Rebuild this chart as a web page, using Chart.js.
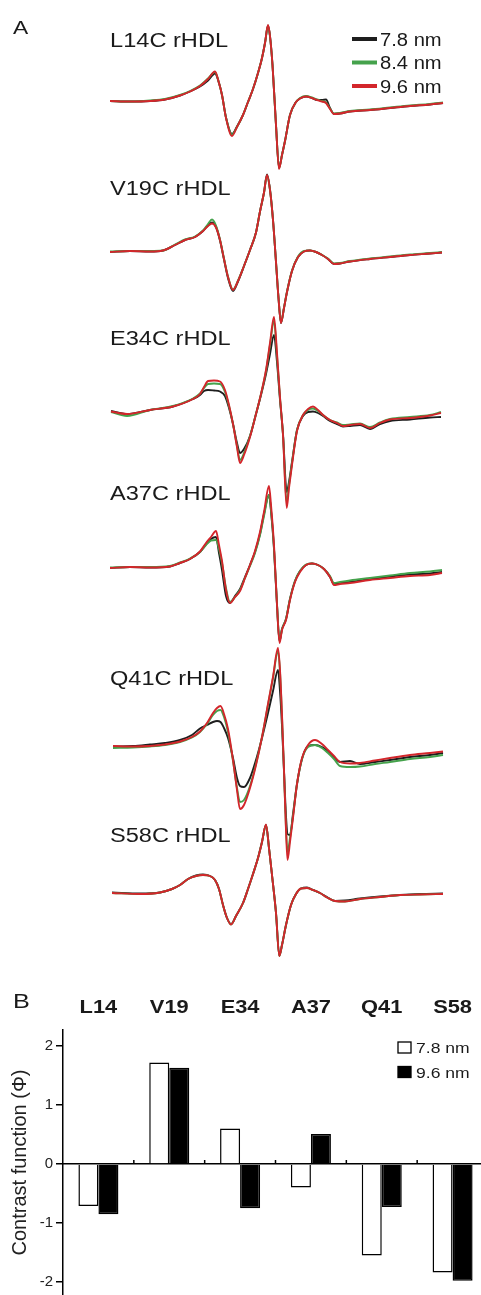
<!DOCTYPE html>
<html>
<head>
<meta charset="utf-8">
<script src="https://cdn.jsdelivr.net/npm/chart.js@4.4.1/dist/chart.umd.min.js"></script>
<style>
  html, body { margin: 0; padding: 0; background: #fff; overflow: hidden; }
  canvas { display: block; }
</style>
</head>
<body>
<canvas id="spectraChart" width="481" height="985"></canvas>
<canvas id="contrastChart" width="488" height="310"></canvas>
<script>
// PANNEAU A : spectres RPE des 6 mutants, pour 3 tailles de particules rHDL
// champ = décalage de champ (u.a.), intensités (u.a.)
const sizes = ['7.8 nm', '8.4 nm', '9.6 nm'];
const mutants = ['L14C rHDL', 'V19C rHDL', 'E34C rHDL', 'A37C rHDL', 'Q41C rHDL', 'S58C rHDL'];

const l14Field = [0,20,40,55,70,80,90,98,105,109,112,116,122,127,133,138,143,148,152,155,158,160,162.5,166,169,172,175,180,186,190,196,202,207,212,216,220,224,230,240,260,280,300,320,333];
const l14Black = [0,-0.5,0,1.5,5.5,9.5,14.5,20.5,27.5,18,6,-16.5,-33,-25.5,-14,-1,12,28,43,58,75.5,65,36,-24,-67,-54,-40,-14,-1,2.5,4.5,3,1,1,1.5,-7,-13,-12.5,-10.5,-9,-7,-5,-3.5,-2];
const l14Green = [0,-0.5,0.5,2,6,10,15.5,22.5,29,18,6,-16.5,-33.5,-26,-14,-1,12,28,43,58,75,64,36,-24,-67,-54,-40,-14,-1,3,5,3.5,1.5,0,-1.5,-7.5,-12.5,-12,-10,-8.5,-6.5,-4.5,-3,-1.5];
const l14Red = [0,-0.5,0,1.5,5.5,9.5,15,22,29.5,18,6,-17,-35,-26,-14,-1,12,28,43,58,76,65,36,-24,-68,-54,-40,-14,-1,2.5,4.5,3,1,-0.5,-2,-8,-13,-12.5,-10.5,-9,-7,-5,-3.5,-2];

const v19Field = [0,20,40,53,65,75,85,93,98,102,106,110,114,118,123,128,134,140,146,150,154,157,160,163,166,168.5,171,174,177,182,188,194,200,206,212,218,224,230,240,260,280,300,320,332];
const v19Black = [-0.5,0.5,0,1,6.5,11.5,14.5,20.5,26,29,24.5,11,-8,-26.5,-39.5,-30,-14.5,1.5,19,40,59,77,62,31.5,-10.5,-46.5,-71.5,-56.5,-40.5,-19.5,-5.5,0,1,-0.5,-3.5,-7.5,-12.5,-12,-10,-7.5,-5.5,-3.5,-2,-1];
const v19Green = [0,0.5,0.5,1,7,12,15,21,27.5,32,26,12,-7,-25,-38,-29,-14.5,1.5,19,40,58.5,76,61.5,31.5,-10.5,-46,-71,-56,-40,-19,-5,0.5,1,-0.5,-3.5,-7,-12,-11.5,-9.5,-7,-5,-3,-1.5,-0.5];
const v19Red = [-0.5,0.5,0,1,6.5,11.5,14.5,20.5,25.5,28,24,11.5,-7.5,-25.5,-38.5,-29.5,-14.5,1.5,19,40,59,76.5,61.5,31.5,-10.5,-46.5,-71.5,-56.5,-40.5,-19.5,-5.5,0,1,-0.5,-3.5,-7.5,-12.5,-12,-10,-7.5,-5.5,-3.5,-2,-1];

const e34Field = [1,17,40,63,83,90,94,98,104,110,115,119,123,127,130,134,140,146,151,156,160,164,167,170,173,176.7,179,182,187,193,198,203,208,213,220,227,233,240,250,260,270,280,300,320,331];
const e34Black = [1,-2,2,5.5,13,17,21,22,21.5,20.5,16,4,-12,-31,-41,-37,-24,-2,17,38,58,77,50,12,-22,-80,-70,-50,-18,-4,0,0.5,-1,-4,-9,-12,-14.5,-14,-13,-17,-12,-9,-7.5,-5.5,-5];
const e34Green = [0,-4,2,6,13.5,18.5,24,28,28.5,28,20,6,-12,-34,-48,-41,-24,-2,18,41,67,91,56,14,-23,-91,-73,-51,-18,-3,2,3.5,1,-3,-8,-10.5,-13,-12.5,-11.5,-15,-10.5,-7,-5,-3,0];
const e34Red = [0.5,-2,2,5.5,13,18,25,31,31.5,30.5,22,7,-12,-35,-51,-43,-25,-2,18,42,69,95,59,15,-23,-96,-76,-53,-19,-3,3,5.5,2,-3,-8,-11,-14,-13,-12,-16,-11,-7.5,-6,-3.5,-1];

const a37Field = [0,20,40,60,70,80,90,96,101,106,109,112,116,120,125,130,135,140,145,150,154,159,161,164,167,169.5,172,176,180,185,190,196,202,208,214,220,224,230,240,260,280,300,320,332];
const a37Black = [0,1,0.5,1.5,5,9,16,23.5,29,31,15,-2,-28,-35,-28,-21,-9,3,16,34,54,73,57,19,-37,-73,-61,-51,-31,-13,-3,3,4.5,3,-1,-9,-16,-15,-14,-11,-8.5,-6.5,-5.5,-4];
const a37Green = [0.5,1,1,2,5.5,9.5,16,23,27.5,28,19,5,-20,-34,-29,-22,-10,2,15,33,52,73,58,20,-36,-73,-61,-51,-31,-13,-3,3.5,4.5,3,-1,-8,-15,-14,-12.5,-10,-7.5,-5,-3.5,-2];
const a37Red = [0,1,0.5,1.5,5,9,16.5,25,31,37,23,7,-22,-35,-29,-23,-10,3,17,36,56,82,63,23,-37,-75,-62,-52,-32,-14,-4,3,4.5,3,-1,-9,-17,-16,-15,-12,-10,-8,-7,-5];

const q41Field = [3,23,40,55,70,82,90,97,103,107,110.5,114,118,123,127,130,134,140,146,152,158,163,168,170,172,174,176,177.5,180,183,187,192,198,205,212,218,224,230,240,250,265,280,300,320,333];
const q41Black = [-0.5,0,1.5,3,6,11,17.5,21,24,25,24,18,8,-12,-32,-40,-41,-32,-14,8,33,55,76,55,20,-25,-70,-88,-89,-68,-38,-13,0,1,-1,-5,-11,-16,-15,-18,-16,-14,-11,-9,-7];
const q41Green = [-2,-1.5,-0.5,1,4,8.5,14,22,31,35,36,29,14,-15,-42,-56,-54,-40,-18,9,41,68,95,74,29,-25,-82,-106,-92,-70,-38,-13,-1,1,-2,-7,-13,-20,-21,-20.5,-18,-16,-13,-11,-9];
const q41Red = [0,-0.5,0,1.5,4.5,9,14.5,23,33,38,40,32,17,-14,-44,-63,-59,-42,-19,9,42,69,98,76,31,-24,-84,-114,-96,-72,-38,-12,1,6,2,-4,-10,-16,-17.5,-17,-14.5,-12,-9,-7,-5.5];

const s58Field = [2,30,50,62,70,78,86,93,100,105,109,113,117,121,126,133,138,143,148,152,156,159,162,166,169.3,172,176,181,186,191,197,203,210,217,225,235,250,270,290,310,333];
const s58Black = [0.5,-0.5,0.5,4,8,14,17.5,18.5,17,13,4,-12,-25,-31,-23,-10,4,19,35,51,68,45,18,-20,-62.5,-52,-32,-12,-1,4.5,5.5,3,0,-4,-8,-7.5,-5.5,-3.5,-2,-1,-0.5];
const s58Green = [0,-1,0.5,4,8,14,17,18,17,13,4,-12,-25,-31.5,-23,-10,4,19,35,51,68,45,18,-20,-63,-52,-32,-12,-1,4.5,5,3,0,-4.5,-8,-8.5,-6,-4,-2,-1.5,-1];
const s58Red = [0,-1,0.5,4,8,14,17,18,17,13,4,-12,-25,-31.5,-23,-10,4,19,35,51,68.5,45,18,-20,-63,-52,-32,-12,-1,4.5,5,3,0,-4.5,-8,-8.5,-6,-4,-2,-1.5,-1];

// PANNEAU B : fonction de contraste (Φ) par site
const sites = ['L14', 'V19', 'E34', 'A37', 'Q41', 'S58'];
const phi78 = [-0.71, 1.72, 0.60, -0.40, -1.55, -1.84];
const phi96 = [-0.85, 1.63, -0.75, 0.51, -0.73, -1.98];
const phiTicks = [-2, -1, 0, 1, 2];

// mise en page (empilement des spectres, pas des données)
const stackOffset = [-101, -251.5, -412, -568, -746, -893];
const labelLift = [54, 56.5, 67, 68, 61, 51];
const lineColors = ['#1e1e1e', '#45a24c', '#d3262b'];
const family = "'Liberation Sans', Arial, Helvetica, sans-serif";

Chart.defaults.font.family = family;

// je regroupe les tableaux par mutant
let spectra = [
  { field: l14Field, curves: [l14Black, l14Green, l14Red] },
  { field: v19Field, curves: [v19Black, v19Green, v19Red] },
  { field: e34Field, curves: [e34Black, e34Green, e34Red] },
  { field: a37Field, curves: [a37Black, a37Green, a37Red] },
  { field: q41Field, curves: [q41Black, q41Green, q41Red] },
  { field: s58Field, curves: [s58Black, s58Green, s58Red] }
];

// Texte légèrement étiré en largeur, comme dans la figure d'origine
function stretchedText(ctx, text, x, y, font, sx, align) {
  ctx.save();
  ctx.font = font;
  ctx.fillStyle = '#1a1a1a';
  ctx.textAlign = align || 'left';
  ctx.textBaseline = 'alphabetic';
  ctx.translate(x, y);
  ctx.scale(sx, 1);
  ctx.fillText(text, 0, 0);
  ctx.restore();
}

let datasetsA = [];
spectra.forEach((sp, k) => {
  sp.curves.forEach((values, c) => {
    datasetsA.push({
      label: mutants[k] + ' ' + sizes[c],
      data: sp.field.map((f, i) => ({ x: f, y: values[i] + stackOffset[k] })),
      borderColor: lineColors[c],
      borderWidth: 1.9,
      pointRadius: 0,
      cubicInterpolationMode: 'monotone',
      order: 2 - c
    });
  });
});

const spectraLabels = {
  id: 'spectraLabels',
  afterDraw(chart) {
    const { ctx, scales: { x, y } } = chart;
    mutants.forEach((name, k) => {
      stretchedText(ctx, name, x.getPixelForValue(0), y.getPixelForValue(stackOffset[k] + labelLift[k]), '20px ' + family, 1.18);
    });
    stretchedText(ctx, 'A', 13, 34, '19px ' + family, 1.2);
    // légende des tailles
    sizes.forEach((s, i) => {
      let ly = 39 + i * 23.5;
      ctx.save();
      ctx.strokeStyle = lineColors[i];
      ctx.lineWidth = 4;
      ctx.beginPath();
      ctx.moveTo(352, ly);
      ctx.lineTo(377, ly);
      ctx.stroke();
      ctx.restore();
      stretchedText(ctx, s, 380, ly + 6.5, '18px ' + family, 1.12);
    });
  }
};

new Chart(document.getElementById('spectraChart'), {
  type: 'line',
  data: { datasets: datasetsA },
  options: {
    responsive: false,
    animation: false,
    events: [],
    layout: { padding: 0 },
    scales: {
      x: { type: 'linear', min: -110, max: 371, display: false },
      y: { type: 'linear', min: -985, max: 0, display: false }
    },
    plugins: { legend: { display: false }, tooltip: { enabled: false } }
  },
  plugins: [spectraLabels]
});

// GRAPHE B : histogramme de la fonction de contraste
const contrastDecor = {
  id: 'contrastDecor',
  afterDraw(chart) {
    const { ctx, chartArea, scales: { x, y } } = chart;
    sites.forEach((s, i) => {
      stretchedText(ctx, s, x.getPixelForValue(i), chartArea.top - 17, 'bold 19px ' + family, 1.15, 'center');
    });
    // petites graduations sur l'axe zéro, entre les sites
    let y0 = y.getPixelForValue(0);
    ctx.save();
    ctx.strokeStyle = '#000';
    ctx.lineWidth = 1.5;
    for (let i = 1; i < sites.length; i++) {
      let bx = (x.getPixelForValue(i - 1) + x.getPixelForValue(i)) / 2;
      ctx.beginPath();
      ctx.moveTo(bx, y0);
      ctx.lineTo(bx, y0 - 4);
      ctx.stroke();
    }
    ctx.restore();
    // légende
    chart.data.datasets.forEach((ds, i) => {
      let ly = 57 + i * 24.5;
      ctx.save();
      ctx.fillStyle = ds.backgroundColor;
      ctx.strokeStyle = '#000';
      ctx.lineWidth = 1.3;
      ctx.fillRect(398, ly, 13, 11);
      ctx.strokeRect(398, ly, 13, 11);
      ctx.restore();
      stretchedText(ctx, ds.label, 416, ly + 11, '15px ' + family, 1.17);
    });
    stretchedText(ctx, 'B', 13, 23, '21px ' + family, 1.2);
  }
};

new Chart(document.getElementById('contrastChart'), {
  type: 'bar',
  data: {
    labels: sites,
    datasets: [
      { label: sizes[0], data: phi78, backgroundColor: '#ffffff', borderColor: '#000', borderWidth: 1.5 },
      { label: sizes[2], data: phi96, backgroundColor: '#000000', borderColor: '#000', borderWidth: 1.5 }
    ]
  },
  options: {
    responsive: false,
    animation: false,
    events: [],
    layout: { padding: { top: 45, left: 0, right: 0, bottom: 0 } },
    datasets: { bar: { barPercentage: 1, categoryPercentage: 0.565 } },
    scales: {
      x: {
        position: { y: 0 },
        afterFit: (scale) => { scale.height = 0; scale.paddingLeft = 0; scale.paddingRight = 0; },
        ticks: { display: false },
        grid: { display: true, drawOnChartArea: false, drawTicks: false },
        border: { display: true, color: '#000', width: 1.5 }
      },
      y: {
        min: -2.22,
        max: 2.27,
        afterFit: (scale) => { scale.width = 63; scale.paddingTop = 0; scale.paddingBottom = 0; },
        afterBuildTicks: (scale) => { scale.ticks = phiTicks.map(v => ({ value: v })); },
        ticks: { color: '#222', font: { size: 15 }, padding: 3 },
        grid: { display: true, drawOnChartArea: false, drawTicks: true, tickLength: 7, color: '#000', lineWidth: 1.5 },
        border: { display: true, color: '#000', width: 1.5 },
        title: { display: true, text: 'Contrast function (Φ)', color: '#222', font: { size: 20 }, padding: { top: 8, bottom: 0 } }
      }
    },
    plugins: { legend: { display: false }, tooltip: { enabled: false } }
  },
  plugins: [contrastDecor]
});
</script>
</body>
</html>
